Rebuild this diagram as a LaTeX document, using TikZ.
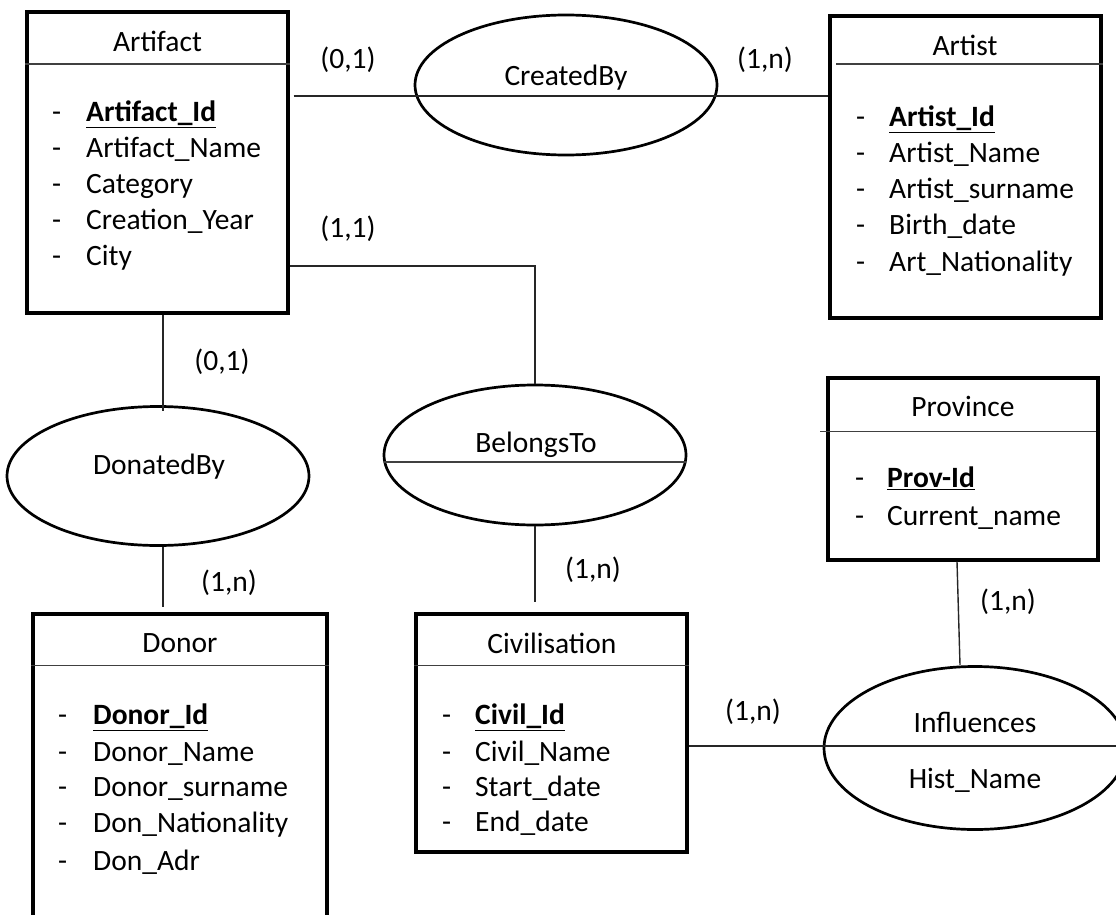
\documentclass[tikz,border=0pt]{standalone}
\usepackage{fontspec}
\setmainfont{Carlito}
\usetikzlibrary{shapes.geometric,fit}
\begin{document}
\begin{tikzpicture}[x=1pt,y=-1pt,
  font=\fontsize{29.5}{35}\selectfont,
  entity/.style={draw, line width=3.2pt, inner sep=0pt},
  rel/.style={draw, ellipse, line width=2.7pt, inner sep=0pt, minimum width=302pt},
  hdr/.style={draw=black!75, line width=1.8pt},
  conn/.style={draw=black!85, line width=1.4pt},
  ttl/.style={inner sep=0pt, anchor=center},
  attr/.style={inner sep=0pt, anchor=west, text height=19pt, text depth=0pt},
  card/.style={inner sep=0pt, anchor=center}]
\useasboundingbox (0,0) rectangle (1116,915);
\clip (0,0) rectangle (1116,915);
\fill[white] (0,0) rectangle (1116,915);

% helper levels
\coordinate (lvlA) at (0,96);
\coordinate (lvlB) at (0,266);
\coordinate (lvlC) at (0,746);
\coordinate (lvlD) at (0,462);
\coordinate (colD) at (163,0);
\coordinate (colP) at (957,0);
\coordinate (colQ) at (960,0);

% ---------- entities ----------
\node[entity, fit={(27,12) (288,313)}] (artifact) {};
\draw[hdr] ([yshift=-54pt]artifact.north west) -- ([yshift=-54pt]artifact.north east);
\node[ttl] (artifactT) at (157.5,41) {Artifact};
\node[attr] (artd1) at (52,112) {-};
\node[attr] (arta1) at (86,112) {\underline{\textbf{Artifact\_Id}}};
\node[attr] (artd2) at (52,148) {-};
\node[attr] (arta2) at (86,148) {Artifact\_Name};
\node[attr] (artd3) at (52,184) {-};
\node[attr] (arta3) at (86,184) {Category};
\node[attr] (artd4) at (52,220) {-};
\node[attr] (arta4) at (86,220) {Creation\_Year};
\node[attr] (artd5) at (52,256) {-};
\node[attr] (arta5) at (86,256) {City};

\node[entity, fit={(830,16) (1101,318)}] (artist) {};
\draw[hdr] ([shift={(8pt,-50pt)}]artist.north west) -- ([yshift=-50pt]artist.north east);
\node[ttl] (artistT) at (965,45) {Artist};
\node[attr] (atd1) at (856,117) {-};
\node[attr] (ata1) at (889,117) {\underline{\textbf{Artist\_Id}}};
\node[attr] (atd2) at (856,153) {-};
\node[attr] (ata2) at (889,153) {Artist\_Name};
\node[attr] (atd3) at (856,189) {-};
\node[attr] (ata3) at (889,189) {Artist\_surname};
\node[attr] (atd4) at (856,225) {-};
\node[attr] (ata4) at (889,225) {Birth\_date};
\node[attr] (atd5) at (856,262) {-};
\node[attr] (ata5) at (889,262) {Art\_Nationality};

\node[entity, fit={(828,378) (1098,560)}] (province) {};
\draw[hdr] ([shift={(-6pt,-55pt)}]province.north west) -- ([shift={(-4pt,-55pt)}]province.north east);
\node[ttl] (provinceT) at (963,406) {Province};
\node[attr] (pd1) at (855,478) {-};
\node[attr] (pa1) at (887,478) {\underline{\textbf{Prov-Id}}};
\node[attr] (pd2) at (855,516) {-};
\node[attr] (pa2) at (887,516) {Current\_name};

\node[entity, fit={(33,614) (327,940)}] (donor) {};
\draw[hdr] ([yshift=-53pt]donor.north west) -- ([yshift=-53pt]donor.north east);
\node[ttl] (donorT) at (180,643) {Donor};
\node[attr] (dd1) at (58,715) {-};
\node[attr] (da1) at (93,715) {\underline{\textbf{Donor\_Id}}};
\node[attr] (dd2) at (58,752) {-};
\node[attr] (da2) at (93,752) {Donor\_Name};
\node[attr] (dd3) at (58,787) {-};
\node[attr] (da3) at (93,787) {Donor\_surname};
\node[attr] (dd4) at (58,823) {-};
\node[attr] (da4) at (93,823) {Don\_Nationality};
\node[attr] (dd5) at (58,861) {-};
\node[attr] (da5) at (93,861) {Don\_Adr};

\node[entity, fit={(416,614) (687,852)}] (civ) {};
\draw[hdr] ([yshift=-53pt]civ.north west) -- ([yshift=-53pt]civ.north east);
\node[ttl] (civT) at (552,643) {Civilisation};
\node[attr] (cd1) at (442,715) {-};
\node[attr] (ca1) at (475,715) {\underline{\textbf{Civil\_Id}}};
\node[attr] (cd2) at (442,752) {-};
\node[attr] (ca2) at (475,752) {Civil\_Name};
\node[attr] (cd3) at (442,787) {-};
\node[attr] (ca3) at (475,787) {Start\_date};
\node[attr] (cd4) at (442,822) {-};
\node[attr] (ca4) at (475,822) {End\_date};

% ---------- relationships ----------
\node[rel, minimum height=140pt] (createdby) at (566,85) {};
\node[ttl] (createdbyT) at (566,78) {CreatedBy};

\node[rel, minimum height=139pt] (donatedby) at (158,476) {};
\node[ttl] (donatedbyT) at (159,467) {DonatedBy};

\node[rel, minimum height=140pt] (belongsto) at (535,455) {};
\node[ttl] (belongstoT) at (536,445) {BelongsTo};
\draw[hdr] ([xshift=1pt]belongsto.west |- lvlD) -- ([xshift=-1pt]belongsto.east |- lvlD);

\node[rel, minimum height=163pt] (influences) at (975,748) {};
\node[ttl] (influencesT) at (975,722) {Influences};
\node[ttl] (histT) at (975,780) {Hist\_Name};

% ---------- connectors ----------
\draw[conn, shorten <=4pt] (artifact.east |- lvlA) -- (artist.west |- lvlA);
\draw[conn] (artifact.east |- lvlB) -| (belongsto.north);
\draw[conn] (artifact.south -| colD) -- ([yshift=-6pt]donatedby.north -| colD);
\draw[conn, shorten >=5pt] (donatedby.south -| colD) -- (donor.north -| colD);
\draw[conn, shorten >=10pt] (belongsto.south) -- (civ.north -| belongsto.south);
\draw[conn] (province.south -| colP) -- (influences.north -| colQ);
\draw[conn] (civ.east |- lvlC) -- ([xshift=20pt]influences.east |- lvlC);

% ---------- cardinalities ----------
\node[card] (c1) at (348,60) {(0,1)};
\node[card] (c2) at (765,60) {(1,n)};
\node[card] (c3) at (348,229) {(1,1)};
\node[card] (c4) at (222,362) {(0,1)};
\node[card] (c5) at (229,583) {(1,n)};
\node[card] (c6) at (593,570) {(1,n)};
\node[card] (c7) at (1008,602) {(1,n)};
\node[card] (c8) at (753,712) {(1,n)};
\end{tikzpicture}
\end{document}
